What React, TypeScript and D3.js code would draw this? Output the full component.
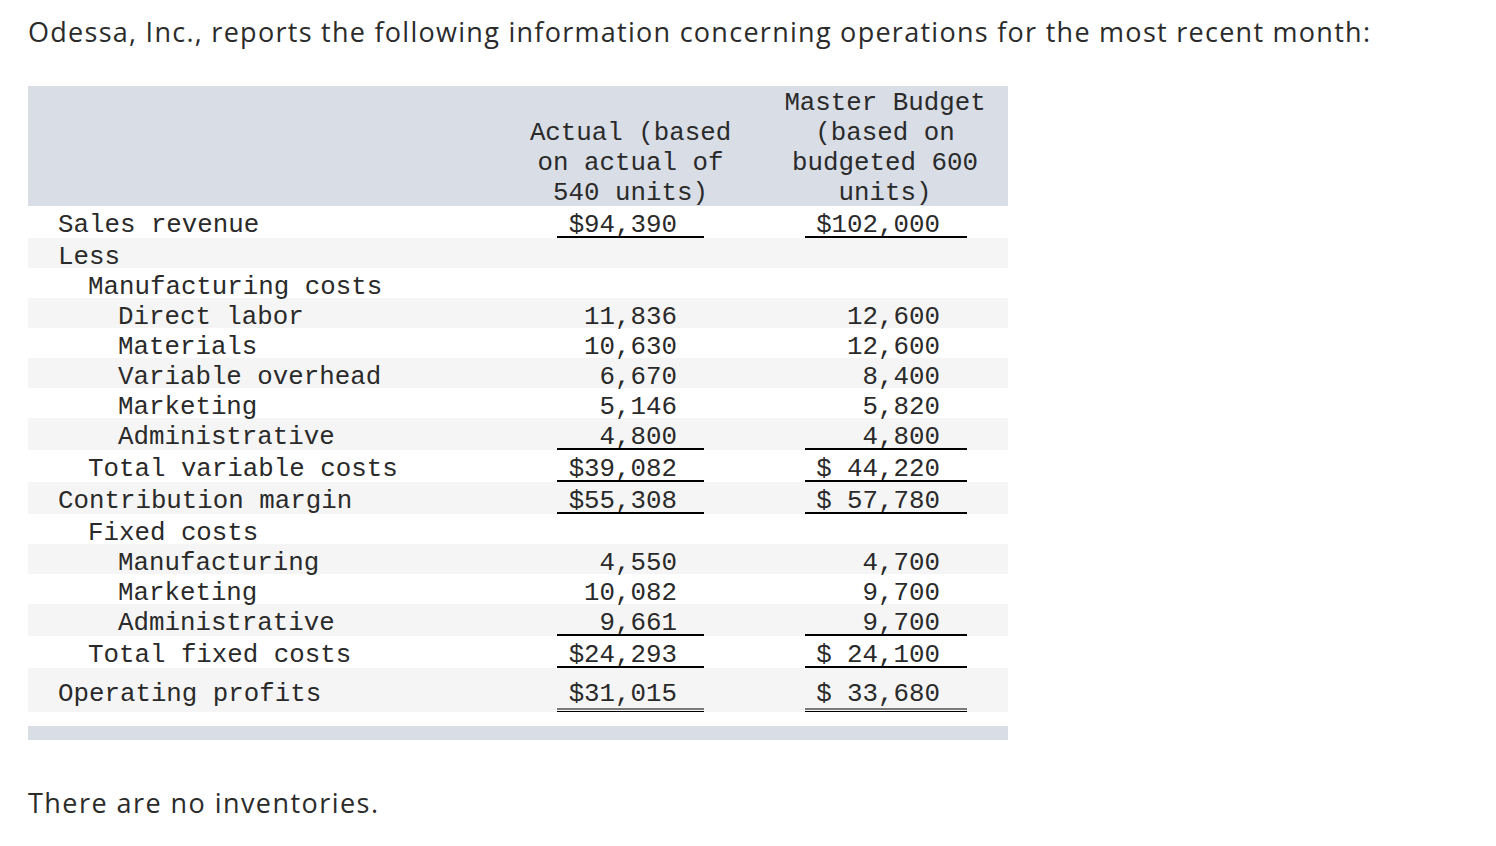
import React from "react";
import * as d3 from "d3";

const TITLE = "Odessa, Inc., reports the following information concerning operations for the most recent month:";
const FOOTNOTE = "There are no inventories.";

const headerActual = ["Actual (based", "on actual of", "540 units)"];
const headerBudget = ["Master Budget", "(based on", "budgeted 600", "units)"];

const rowLabels = [
  "Sales revenue",
  "Less",
  "Manufacturing costs",
  "Direct labor",
  "Materials",
  "Variable overhead",
  "Marketing",
  "Administrative",
  "Total variable costs",
  "Contribution margin",
  "Fixed costs",
  "Manufacturing",
  "Marketing",
  "Administrative",
  "Total fixed costs",
  "Operating profits",
];
const rowIndent = [0, 0, 1, 2, 2, 2, 2, 2, 1, 0, 1, 2, 2, 2, 1, 0];
const actualValues: (number | null)[] = [94390, null, null, 11836, 10630, 6670, 5146, 4800, 39082, 55308, null, 4550, 10082, 9661, 24293, 31015];
const budgetValues: (number | null)[] = [102000, null, null, 12600, 12600, 8400, 5820, 4800, 44220, 57780, null, 4700, 9700, 9700, 24100, 33680];
const dollarRows = [true, false, false, false, false, false, false, false, true, true, false, false, false, false, true, true];
// underline: 0 none, 1 single, 2 double
const underline = [1, 0, 0, 0, 0, 0, 0, 1, 1, 1, 0, 0, 0, 1, 1, 2];

// layout
const rowHeights = [32, 30, 30, 30, 30, 30, 30, 32, 32, 32, 30, 30, 30, 32, 32, 44];
const tableLeft = 28;
const tableRight = 1008;
const headerTop = 86;
const headerBottom = 206;
const FONT_MONO = "'Liberation Mono', 'Courier New', monospace";
const FONT_SANS = "'Open Sans', Lato, sans-serif";
const MONO_SIZE = 25.8;
const INK = "#2a2a2a";

export default function App() {
  const rowTops: number[] = [];
  let acc = headerBottom;
  rowHeights.forEach((h) => {
    rowTops.push(acc);
    acc += h;
  });
  const tableBottom = acc;

  const fmt = d3.format(",");
  const cols = [
    { values: actualValues, right: 677, center: 630.5, width: 6, lineX1: 557, lineX2: 704 },
    { values: budgetValues, right: 940, center: 885, width: 7, lineX1: 805, lineX2: 967 },
  ];
  const indentScale = d3.scaleLinear().domain([0, 2]).range([58, 118]);

  const cellText = (v: number | null, i: number, w: number) => {
    if (v == null) return "";
    const s = fmt(v);
    return dollarRows[i] ? "$" + s.padStart(w, " ") : s;
  };

  return (
    <svg
      width={1496}
      height={846}
      style={{ position: "absolute", left: 0, top: 0, background: "#fff" }}
    >
      <text x={28} y={42} fontFamily={FONT_SANS} fontSize={27} fill="#2b2b2b" textLength={1342} lengthAdjust="spacing">
        {TITLE}
      </text>

      <rect x={tableLeft} y={headerTop} width={tableRight - tableLeft} height={headerBottom - headerTop} fill="#d8dde6" />

      {rowLabels.map((_, i) => (
        <rect
          key={"bg" + i}
          x={tableLeft}
          y={rowTops[i]}
          width={tableRight - tableLeft}
          height={rowHeights[i]}
          fill={i % 2 === 1 ? "#f5f5f5" : "#ffffff"}
        />
      ))}

      <rect x={tableLeft} y={tableBottom + 14} width={tableRight - tableLeft} height={14} fill="#d8dde6" />

      {headerActual.map((t, k) => (
        <text
          key={"ha" + k}
          x={cols[0].center}
          y={110 + 30 * (k + 1)}
          textAnchor="middle"
          fontFamily={FONT_MONO}
          fontSize={MONO_SIZE}
          fill={INK}
          style={{ whiteSpace: "pre" }}
        >
          {t}
        </text>
      ))}
      {headerBudget.map((t, k) => (
        <text
          key={"hb" + k}
          x={cols[1].center}
          y={110 + 30 * k}
          textAnchor="middle"
          fontFamily={FONT_MONO}
          fontSize={MONO_SIZE}
          fill={INK}
          style={{ whiteSpace: "pre" }}
        >
          {t}
        </text>
      ))}

      {rowLabels.map((label, i) => {
        const baseline = rowTops[i] + (i === rowLabels.length - 1 ? 33 : 26);
        return (
          <g key={"row" + i}>
            <text
              x={indentScale(rowIndent[i])}
              y={baseline}
              fontFamily={FONT_MONO}
              fontSize={MONO_SIZE}
              fill={INK}
            >
              {label}
            </text>
            {cols.map((c, j) => (
              <g key={"c" + j}>
                <text
                  x={c.right}
                  y={baseline}
                  textAnchor="end"
                  fontFamily={FONT_MONO}
                  fontSize={MONO_SIZE}
                  fill={INK}
                  style={{ whiteSpace: "pre" }}
                >
                  {cellText(c.values[i], i, c.width)}
                </text>
                {underline[i] === 1 && (
                  <line
                    x1={c.lineX1}
                    x2={c.lineX2}
                    y1={rowTops[i] + rowHeights[i] - 1}
                    y2={rowTops[i] + rowHeights[i] - 1}
                    stroke="#000"
                    strokeWidth={2}
                  />
                )}
                {underline[i] === 2 && (
                  <g>
                    <line
                      x1={c.lineX1}
                      x2={c.lineX2}
                      y1={rowTops[i] + rowHeights[i] - 3}
                      y2={rowTops[i] + rowHeights[i] - 3}
                      stroke="#000"
                      strokeWidth={1}
                    />
                    <line
                      x1={c.lineX1}
                      x2={c.lineX2}
                      y1={rowTops[i] + rowHeights[i] - 0.5}
                      y2={rowTops[i] + rowHeights[i] - 0.5}
                      stroke="#000"
                      strokeWidth={1}
                    />
                  </g>
                )}
              </g>
            ))}
          </g>
        );
      })}

      <text x={28} y={813} fontFamily={FONT_SANS} fontSize={27} fill="#2b2b2b" textLength={350} lengthAdjust="spacing">
        {FOOTNOTE}
      </text>
    </svg>
  );
}
